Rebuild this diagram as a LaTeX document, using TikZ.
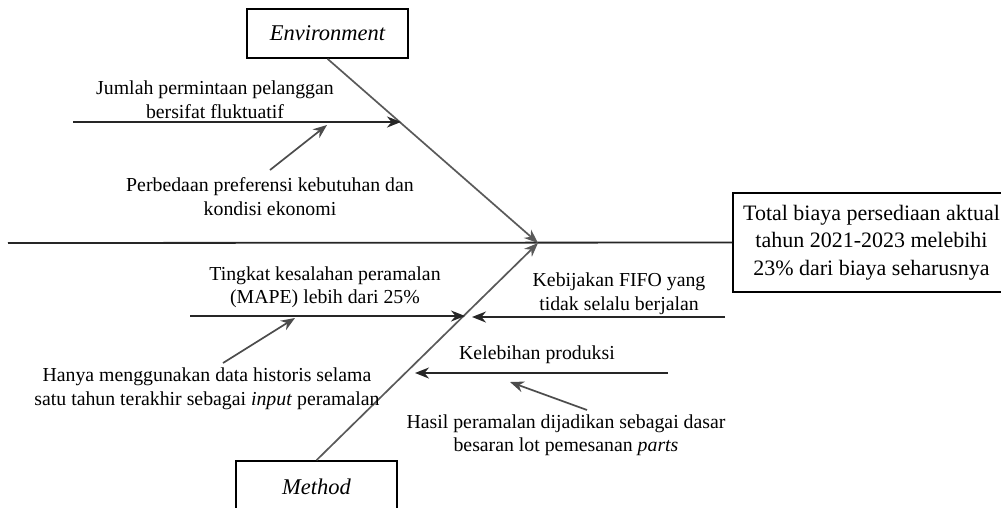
\documentclass[tikz,border=0pt]{standalone}
\usepackage{fontspec}
\setmainfont{Liberation Serif}
\usetikzlibrary{arrows.meta}
\begin{document}
\begin{tikzpicture}[x=1pt,y=-1pt,
  bone/.style={line width=1.8pt, black!85},
  diag/.style={line width=1.7pt, black!65},
  small/.style={line width=1.7pt, black!70},
  tip/.style={-{Stealth[length=14pt,width=11pt]}},
  txt/.style={align=center, inner sep=0pt, font=\fontsize{19.8}{23.5}\selectfont},
  cat/.style={draw, line width=1.6pt, minimum width=161pt, font=\fontsize{22.5}{27}\selectfont\itshape},
  effbox/.style={draw, line width=1.6pt, align=center, minimum width=277pt, minimum height=99pt, inner sep=0pt, font=\fontsize{22}{27.5}\selectfont}
]
\useasboundingbox (0,0) rectangle (1001,507);
\clip (0,0) rectangle (1001,507);

% category boxes
\node[cat, minimum height=49pt] (env) at (327.5,33.5) {Environment};
\node[cat, minimum height=59pt, text depth=8pt] (met) at (316.5,490.5) {Method};
% effect
\node[effbox] (eff) at (871.5,242.5) {Total biaya persediaan aktual\\tahun 2021-2023 melebihi\\23\% dari biaya seharusnya};

% spine
\coordinate (tail) at (8,243);
\coordinate (head) at (538,243);
\draw[bone] (tail) -- (eff.west);
\draw[diag,tip] (env.south) -- (head);
\draw[diag,tip] (met.north) -- (head);

% texts
\node[txt] (t1) at (215,99.5) {Jumlah permintaan pelanggan\\bersifat fluktuatif};
\node[txt] (t2) at (270,196.5) {Perbedaan preferensi kebutuhan dan\\kondisi ekonomi};
\node[txt] (t3) at (325,287) {Tingkat kesalahan peramalan\\(MAPE) lebih dari 25\%};
\node[txt] (t4) at (207,389) {Hanya menggunakan data historis selama\\satu tahun terakhir sebagai \textit{input} peramalan};
\node[txt] (t5) at (619,293.5) {Kebijakan FIFO yang\\tidak selalu berjalan};
\node[txt] (t6) at (537,355) {Kelebihan produksi};
\node[txt] (t7) at (566,435) {Hasil peramalan dijadikan sebagai dasar\\besaran lot pemesanan \textit{parts}};

% bones
\coordinate (b1s) at (73,122);   \coordinate (b1e) at (401,122);
\coordinate (b2s) at (270,170);  \coordinate (b2e) at (327,125);
\coordinate (b3s) at (190,316);  \coordinate (b3e) at (465,316);
\coordinate (b4s) at (223,363);  \coordinate (b4e) at (295,318);
\coordinate (b5s) at (725,317);  \coordinate (b5e) at (472,317);
\coordinate (b6s) at (668,373);  \coordinate (b6e) at (415,373);
\coordinate (b7s) at (587,410);  \coordinate (b7e) at (510,382);

\draw[bone,tip] (b1s) -- (b1e);
\draw[small,tip] (b2s) -- (b2e);
\draw[bone,tip] (b3s) -- (b3e);
\draw[small,tip] (b4s) -- (b4e);
\draw[bone,tip] (b5s) -- (b5e);
\draw[bone,tip] (b6s) -- (b6e);
\draw[small,tip] (b7s) -- (b7e);
\end{tikzpicture}
\end{document}
